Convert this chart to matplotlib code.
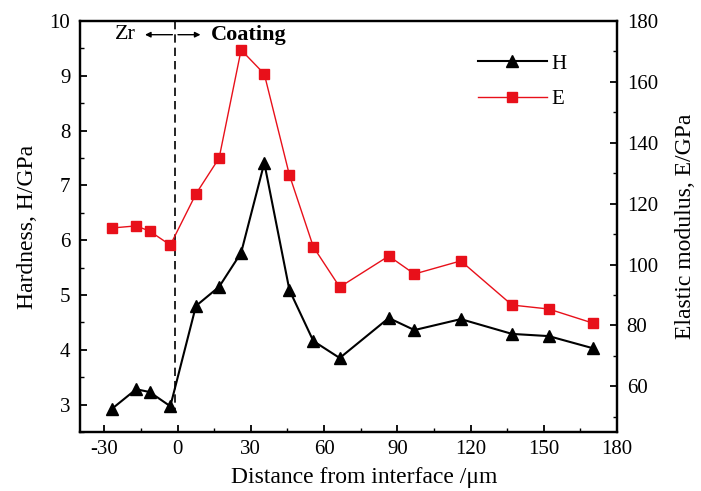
import matplotlib
matplotlib.use("Agg")
from matplotlib import pyplot as plt
from matplotlib.ticker import MultipleLocator

plt.rcParams['font.family'] = ['Liberation Serif', 'DejaVu Serif']
plt.rcParams['axes.unicode_minus'] = False

# distance from interface (um)
dist = [-27, -17, -11.5, -3, 7.5, 17, 26, 35.5, 45.8, 55.6, 66.4,
        86.5, 97, 116, 137, 152, 170]
# hardness H (GPa)
hardness = [2.92, 3.28, 3.23, 2.97, 4.80, 5.15, 5.77, 7.41, 5.09, 4.16, 3.85,
            4.58, 4.36, 4.56, 4.29, 4.25, 4.03]
# elastic modulus E (GPa)
modulus = [112.0, 112.7, 111.0, 106.4, 123.2, 135.0, 170.5, 162.6, 129.4, 105.8, 92.6,
           102.8, 96.9, 101.2, 86.7, 85.4, 80.8]

fig = plt.figure(figsize=(7.01, 4.91), dpi=100)
ax = fig.add_axes([80 / 701, 1 - 432 / 491, 537 / 701, 411 / 491])
ax2 = ax.twinx()

lh, = ax.plot(dist, hardness, color='black', lw=1.5, marker='^', ms=9, label='H')
le, = ax2.plot(dist, modulus, color='#e8101a', lw=1.0, marker='s', ms=6.5, label='E')

ax.set_xlim(-40, 180)
ax.set_ylim(2.5, 10)
ax2.set_ylim(45, 180)

ax.xaxis.set_major_locator(MultipleLocator(30))
ax.xaxis.set_minor_locator(MultipleLocator(15))
ax.yaxis.set_major_locator(MultipleLocator(1))
ax.yaxis.set_minor_locator(MultipleLocator(0.5))
ax2.yaxis.set_minor_locator(MultipleLocator(10))
ax2.set_yticks(range(60, 181, 20))

for a in (ax, ax2):
    a.tick_params(which='major', direction='in', length=5, width=1.3, labelsize=15)
    a.tick_params(which='minor', direction='in', length=3, width=1.0)
    for s in a.spines.values():
        s.set_linewidth(1.6)
ax.tick_params(axis='x', pad=6)
ax.tick_params(axis='y', pad=7)
ax2.tick_params(axis='y', pad=7)

ax.set_xlabel('Distance from interface /\u03bcm', fontsize=17, labelpad=4)
ax.xaxis.set_label_coords(0.53, -0.085)
ax.set_ylabel('Hardness, H/GPa', fontsize=17, labelpad=8)
ax2.set_ylabel('Elastic modulus, E/GPa', fontsize=17, labelpad=12)

# interface line and annotations
ax.plot([-1, -1], [10, 2.85], color='black', lw=1.2, ls=(0, (5, 3)))
ax.annotate('', xy=(-14.5, 9.75), xytext=(-1, 9.75),
            arrowprops=dict(arrowstyle='-|>', color='black', lw=1.0, mutation_scale=8))
ax.annotate('', xy=(10.5, 9.75), xytext=(-1, 9.75),
            arrowprops=dict(arrowstyle='-|>', color='black', lw=1.0, mutation_scale=8))
ax.text(-17, 9.75, 'Zr', ha='right', va='center', fontsize=16)
ax.text(13.5, 9.75, 'Coating', ha='left', va='center', fontsize=16, fontweight='bold')

ax.legend([lh, le], ['H', 'E'], loc='upper right', bbox_to_anchor=(0.94, 0.965),
          frameon=False, fontsize=15, handlelength=3.3, handletextpad=0.2,
          labelspacing=0.75)

fig.savefig('out.png', dpi=100)
